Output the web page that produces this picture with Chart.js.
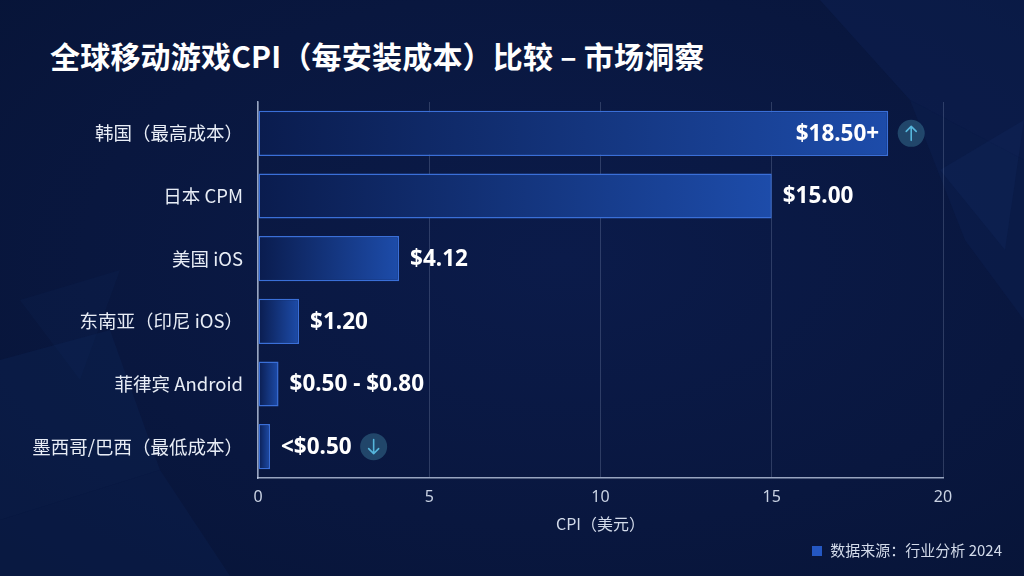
<!DOCTYPE html>
<html lang="zh-CN">
<head>
<meta charset="utf-8">
<title>全球移动游戏CPI比较</title>
<script src="https://cdn.jsdelivr.net/npm/chart.js@4.4.1/dist/chart.umd.min.js"></script>
<style>
  html, body { margin: 0; padding: 0; }
  body {
    width: 1024px; height: 576px; overflow: hidden; position: relative;
    background: radial-gradient(ellipse at 55% 45%, #0b1b4a 0%, #09173f 60%, #071437 100%);
    font-family: "Noto Sans CJK SC", "Noto Sans", sans-serif;
  }
  #bg { position: absolute; left: 0; top: 0; }
  #title {
    position: absolute; left: 50px; top: 33px; margin: 0;
    color: #ffffff; font-size: 30px; font-weight: 700; letter-spacing: 0.2px;
  }
  #wrap { position: absolute; left: 0; top: 0; width: 1024px; height: 576px; }
  #source {
    position: absolute; right: 22px; top: 539px;
    color: #d3dbea; font-size: 15px;
  }
  #source span {
    display: inline-block; width: 10px; height: 10px; background: #2457c2;
    margin-right: 8px;
  }
</style>
</head>
<body>
<svg id="bg" width="1024" height="576">
  <polygon points="820,0 1024,0 1024,160 910,100" fill="#0e2458" opacity="0.4"/>
  <polygon points="910,100 1024,160 1024,320 965,240" fill="#0d2255" opacity="0.35"/>
  <polygon points="940,170 1024,120 1005,250" fill="#122a63" opacity="0.25"/>
  <polygon points="0,360 110,330 160,470 0,520" fill="#0e2457" opacity="0.35"/>
  <polygon points="0,520 160,470 230,576 0,576" fill="#0c2050" opacity="0.4"/>
  <polygon points="20,300 120,270 80,380" fill="#10265c" opacity="0.2"/>
</svg>
<h1 id="title">全球移动游戏CPI（每安装成本）比较 – 市场洞察</h1>
<div id="wrap"><canvas id="cpiChart" width="1024" height="576"></canvas></div>
<div id="source"><span></span>数据来源：行业分析 2024</div>
<script>
// 数据
const regions = ['韩国（最高成本）', '日本 CPM', '美国 iOS', '东南亚（印尼 iOS）', '菲律宾 Android', '墨西哥/巴西（最低成本）'];
const cpiValues = [18.4, 15.0, 4.12, 1.2, 0.6, 0.35];
const valueLabels = ['$18.50+', '$15.00', '$4.12', '$1.20', '$0.50 - $0.80', '<$0.50'];
const trendIcons = ['up', '', '', '', '', 'down'];
const xTicks = [0, 5, 10, 15, 20];

// 渐变填充，每个条形从左暗到右亮
function barGradient(context) {
    const chart = context.chart;
    const area = chart.chartArea;
    if (!area || context.dataIndex === undefined) return '#163a86';
    const xScale = chart.scales.x;
    const end = xScale.getPixelForValue(cpiValues[context.dataIndex]);
    const g = chart.ctx.createLinearGradient(area.left, 0, end, 0);
    g.addColorStop(0, '#0a1c4e');
    g.addColorStop(1, '#1d4caa');
    return g;
}

function drawArrowIcon(ctx, x, y, dir) {
    ctx.save();
    ctx.beginPath();
    ctx.arc(x, y, 13.5, 0, Math.PI * 2);
    ctx.fillStyle = 'rgba(52, 110, 140, 0.55)';
    ctx.fill();
    ctx.strokeStyle = '#56b6dc';
    ctx.lineWidth = 1.6;
    ctx.lineCap = 'round';
    ctx.lineJoin = 'round';
    const s = dir === 'up' ? -1 : 1;
    ctx.beginPath();
    ctx.moveTo(x, y - 7 * s);
    ctx.lineTo(x, y + 7 * s);
    ctx.moveTo(x - 5, y + 2 * s);
    ctx.lineTo(x, y + 7 * s);
    ctx.lineTo(x + 5, y + 2 * s);
    ctx.stroke();
    ctx.restore();
}

// 数值标签与箭头
const valueLabelPlugin = {
    id: 'valueLabels',
    afterDatasetsDraw(chart) {
        const ctx = chart.ctx;
        const meta = chart.getDatasetMeta(0);
        ctx.save();
        ctx.font = 'bold 22.5px "Noto Sans", "Noto Sans CJK SC", sans-serif';
        ctx.fillStyle = '#ffffff';
        ctx.textBaseline = 'middle';
        meta.data.forEach((bar, i) => {
            const y = bar.y + 1;
            let textEnd;
            if (i === 0) {
                ctx.textAlign = 'right';
                ctx.fillText(valueLabels[i], bar.x - 9, y);
                textEnd = bar.x;
            } else {
                ctx.textAlign = 'left';
                ctx.fillText(valueLabels[i], bar.x + 11, y);
                textEnd = bar.x + 11 + ctx.measureText(valueLabels[i]).width;
            }
            if (trendIcons[i]) {
                drawArrowIcon(ctx, textEnd + (i === 0 ? 23 : 22), bar.y, trendIcons[i]);
            }
        });
        ctx.restore();
    }
};

const ctx = document.getElementById('cpiChart');
new Chart(ctx, {
    type: 'bar',
    data: {
        labels: regions,
        datasets: [{
            data: cpiValues,
            backgroundColor: barGradient,
            borderColor: '#3a6fd8',
            borderWidth: 1.5,
            borderSkipped: false,
            barPercentage: 0.8,
            categoryPercentage: 0.9
        }]
    },
    options: {
        indexAxis: 'y',
        responsive: false,
        animation: false,
        devicePixelRatio: 1,
        layout: { padding: { top: 102, right: 81, left: 0, bottom: 0 } },
        plugins: {
            legend: { display: false },
            tooltip: { enabled: false }
        },
        scales: {
            x: {
                min: 0,
                max: 20,
                afterBuildTicks(scale) { scale.ticks = xTicks.map(v => ({ value: v })); },
                afterFit(scale) { scale.height = 98; },
                grid: { color: 'rgba(190, 205, 235, 0.2)', lineWidth: 1, drawTicks: false },
                border: { display: true, color: 'rgba(200, 212, 235, 0.75)', width: 1.5 },
                ticks: {
                    color: '#c9d2e3',
                    padding: 10,
                    font: { size: 16, family: '"Noto Sans", sans-serif' }
                },
                title: {
                    display: true,
                    text: 'CPI（美元）',
                    color: '#d3dbea',
                    padding: { top: 0, bottom: 42 },
                    font: { size: 16, family: '"Noto Sans CJK SC", sans-serif' }
                }
            },
            y: {
                afterFit(scale) { scale.width = 258; },
                grid: { display: false, drawTicks: false },
                border: { display: true, color: 'rgba(200, 212, 235, 0.75)', width: 1.5 },
                ticks: {
                    color: '#e8edf6',
                    padding: 15,
                    font: { size: 18.5, family: '"Noto Sans CJK SC", sans-serif' }
                }
            }
        }
    },
    plugins: [valueLabelPlugin]
});
</script>
</body>
</html>
